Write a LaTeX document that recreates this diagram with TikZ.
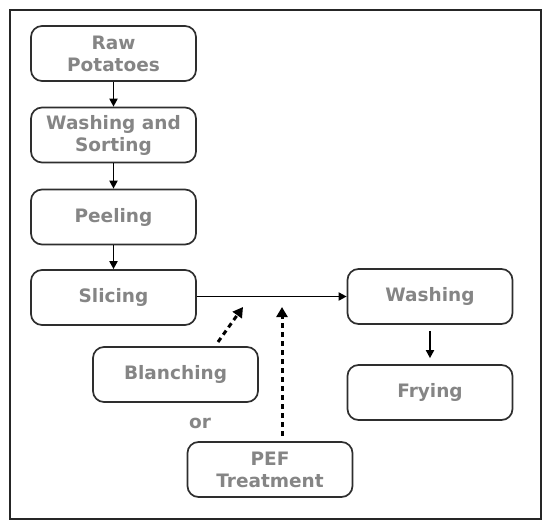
\documentclass[tikz,border=0pt]{standalone}
\usepackage{fontspec}
\setmainfont{DejaVu Sans}
\usetikzlibrary{arrows.meta}
\definecolor{txtgray}{HTML}{858585}
\definecolor{boxline}{HTML}{2E2E2E}
\begin{document}
\begin{tikzpicture}[x=1pt,y=-1pt,
  stepbox/.style={draw=boxline, line width=1.7pt, rounded corners=11pt,
    minimum width=165pt, minimum height=55pt, inner sep=0pt,
    align=center, text=txtgray,
    font=\fontsize{18.5}{22}\selectfont\bfseries},
  flow/.style={line width=1.8pt, -{Triangle[length=8pt,width=8pt]}},
  dflow/.style={line width=3pt, dash pattern=on 5pt off 4pt,
    -{Triangle[length=10pt,width=11pt]}}]
\useasboundingbox (0,0) rectangle (550,531);
\draw[line width=2.5pt, draw=black!85] (10,10) rectangle (541,519);
\node[stepbox] (raw) at (113.5,53.5) {Raw\\Potatoes};
\node[stepbox] (sort) at (113.5,135) {Washing and\\Sorting};
\node[stepbox] (peel) at (113.5,217) {Peeling};
\node[stepbox] (slice) at (113.5,297.5) {Slicing};
\node[stepbox] (wash) at (430,296.5) {Washing};
\node[stepbox] (fry) at (430,392.5) {Frying};
\node[stepbox] (blanch) at (175.5,374.5) {Blanching};
\node[stepbox] (pef) at (270,469.5) {PEF\\Treatment};
\node[text=txtgray, font=\fontsize{18.5}{22}\selectfont\bfseries] (or) at (200,423) {or};
\coordinate (btail) at (218,342);
\coordinate (btip) at (243,307);
\coordinate (ptip) at (282,307);
\draw[flow] (raw) -- (sort);
\draw[flow] (sort) -- (peel);
\draw[flow] (peel) -- (slice);
\draw[flow] (slice.east |- wash.west) -- (wash.west);
\draw[flow, shorten <=6pt, shorten >=6pt] (wash) -- (fry);
\draw[dflow] (btail) -- (btip);
\draw[dflow, shorten <=5pt] (pef.north -| ptip) -- (ptip);
\end{tikzpicture}
\end{document}
